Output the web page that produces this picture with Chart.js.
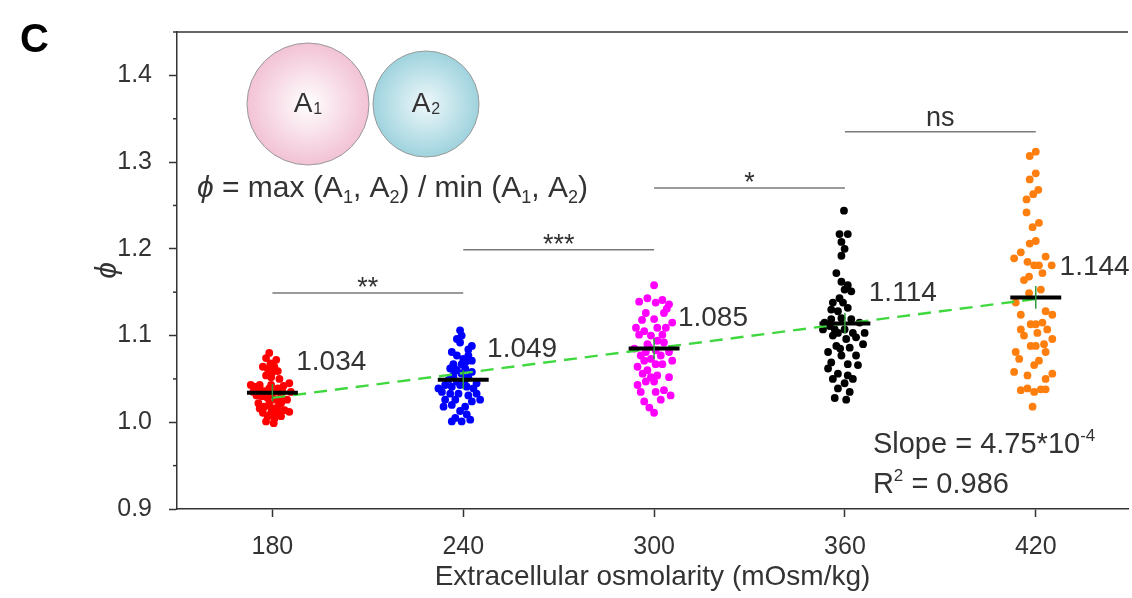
<!DOCTYPE html>
<html>
<head>
<meta charset="utf-8">
<script src="https://cdn.jsdelivr.net/npm/chart.js@4/dist/chart.umd.min.js"></script>
<style>
  html, body { margin: 0; padding: 0; background: #fff; overflow: hidden; }
</style>
</head>
<body>
<canvas id="phiChart" width="1132" height="598"></canvas>
<script>
// Groups, means and SEM
const groups = [180, 240, 300, 360, 420];
const means = [1.034, 1.049, 1.085, 1.114, 1.144];
const sem = [0.010, 0.011, 0.012, 0.012, 0.013];
const colors = ["#ff0000", "#0000ff", "#ff00ff", "#000000", "#ff7f0e"];

// Individual cells: horizontal jitter (mOsm/kg) and phi
const dx180 = [-1, 1.2, -2, -3, -1.5, 0.6, 1.7, -2, -0.4, 2.2, 5.3, 3.5, -5.8, -4, -2.5, 0.6, 5.8, -5, -3.3, -1.5,
  2.7, 4.6, -4.4, -2.5, -0.2, 1.7, 3.8, 5.3, -3, -1.5, 0.6, 2.7, -2, 0.4, -6.8, -0.4, -1, 1.7, -4, 3.2,
  -6, -0.4, 1.2, -0.9, 2.7, -4, 1.7, -0.4, -0.6, -0.1];
const phi180 = [1.080, 1.072, 1.074, 1.064, 1.062, 1.064, 1.059, 1.054, 1.052, 1.050, 1.045, 1.042, 1.041, 1.039, 1.036, 1.035, 1.035, 1.031, 1.030, 1.028,
  1.030, 1.026, 1.022, 1.018, 1.016, 1.018, 1.014, 1.012, 1.011, 1.007, 1.004, 1.007, 1.001, 0.999, 1.043, 1.043, 1.039, 1.039, 1.043, 1.035,
  1.035, 1.031, 1.026, 1.022, 1.022, 1.016, 1.011, 1.011, 1.068, 1.057];

const dx240 = [-1, -0.5, -2, -1, 2.7, 1.6, -3.6, -2, 1.6, 0, 2.7, -3.1, -4.1, -2, 0.6, -0.5, -3.1, 1.6, -5.7, -3.6,
  -1, 1.1, 3.2, -6.7, -4.1, -1.5, 1.6, 4.2, -5.7, -2.5, 2.7, 5.3, -3.6, 0.6, -6.2, -1, 1.1, -2.5, 2.2, -3.6,
  -0.5, 0.6, -2, 2.7, -4.6, 4.2, -0.5, -7.8, 0.9, -2.8];
const phi240 = [1.106, 1.100, 1.096, 1.092, 1.088, 1.084, 1.081, 1.077, 1.077, 1.073, 1.071, 1.067, 1.062, 1.060, 1.062, 1.056, 1.054, 1.052, 1.043, 1.041,
  1.043, 1.041, 1.039, 1.035, 1.033, 1.033, 1.031, 1.033, 1.026, 1.026, 1.024, 1.026, 1.020, 1.018, 1.018, 1.013, 1.009, 1.005, 1.003, 1.001,
  1.001, 1.049, 1.047, 1.058, 1.049, 1.045, 1.067, 1.039, 1.070, 1.062];

const dx300 = [0, -4.7, -2.1, 0.5, 2.6, 4.7, -2.6, 3.1, 0, 5.7, -5.7, -3.1, 1, 3.7, -4.7, -1, 2.6, 1, -2.1, 3.1,
  -2.6, 0.5, -4.2, 4.7, -1, -3.1, -5.2, 0.5, 2.6, -2.1, 4.7, -1, 1, -2.6, -5.2, 0, 3.1, -4.2, 0.5, 5.2,
  -3.1, 2.1, 0, -1.6, 2.1, -6.2, 5.7, -3.6, -1.5, 4, -3.8];
const phi300 = [1.158, 1.139, 1.143, 1.138, 1.141, 1.136, 1.126, 1.126, 1.119, 1.115, 1.109, 1.105, 1.109, 1.109, 1.101, 1.100, 1.101, 1.094, 1.090, 1.092,
  1.081, 1.083, 1.077, 1.081, 1.073, 1.071, 1.064, 1.067, 1.067, 1.060, 1.052, 1.052, 1.054, 1.047, 1.043, 1.047, 1.037, 1.035, 1.035, 1.031,
  1.024, 1.026, 1.011, 1.087, 1.077, 1.085, 1.071, 1.056, 1.017, 1.131, 1.118];

const dx360 = [-0.3, -1.7, 0.9, -1.1, -0.1, -1.1, -2.7, -1.1, 0.9, 2, -0.1, -1.7, -3.8, -0.6, -4.3, -2.2, 0.9, -6.4, -4.3, -1.1,
  2, 4.6, -6.9, -3.2, -0.1, 2.5, 6.2, -3.8, 0.4, 3.5, -2.7, 1.5, -5.3, -1.1, 3.5, -4.3, 0.9, 4.1, -5.3, -2.2,
  0.9, -3.8, -0.1, -2.2, 1.5, -3.2, 0.4, -4.8, -2.2, 5.7, -1.5, 2.5];
const phi360 = [1.244, 1.217, 1.217, 1.208, 1.200, 1.192, 1.172, 1.162, 1.158, 1.151, 1.153, 1.143, 1.138, 1.138, 1.130, 1.128, 1.132, 1.115, 1.119, 1.120,
  1.119, 1.115, 1.107, 1.107, 1.107, 1.103, 1.103, 1.100, 1.096, 1.098, 1.088, 1.086, 1.081, 1.077, 1.077, 1.069, 1.067, 1.066, 1.062, 1.056,
  1.054, 1.050, 1.045, 1.039, 1.035, 1.028, 1.026, 1.111, 1.103, 1.090, 1.085, 1.050];

const dx420 = [0, -1.9, 0, -1.9, 0.8, -0.8, -2.9, -2.9, 1, -1, 0, -1.9, -4.7, -6.8, 3.1, -2.6, -0.5, 1, 5, 2.1,
  -2.1, -3.7, -6.3, -4.7, 3.1, 5.2, -1.6, 0, 2.1, -3.7, 0, -1.6, 2.6, 5.2, -6.3, -5.2, -0.5, 1, -6.8, -2.6,
  3.1, 5.2, -4.7, -2.6, -0.5, 1.6, 3.1, -1, -4.7, 3.6, 0.5, -2.1, 1.6, 3.1];
const phi420 = [1.312, 1.307, 1.287, 1.280, 1.268, 1.263, 1.257, 1.242, 1.230, 1.225, 1.209, 1.206, 1.196, 1.189, 1.191, 1.185, 1.181, 1.181, 1.181, 1.172,
  1.168, 1.164, 1.138, 1.124, 1.128, 1.124, 1.113, 1.113, 1.115, 1.100, 1.088, 1.088, 1.090, 1.096, 1.081, 1.073, 1.066, 1.071, 1.058, 1.054,
  1.050, 1.056, 1.037, 1.039, 1.035, 1.038, 1.038, 1.018, 1.107, 1.107, 1.103, 1.149, 1.153, 1.081];

// Significance brackets
const sigPairs = [[180, 240], [240, 300], [300, 360], [360, 420]];
const sigLevels = [1.149, 1.199, 1.270, 1.335];
const sigLabels = ["**", "***", "*", "ns"];

// Axis ticks
const xTicks = [180, 240, 300, 360, 420];
const yTicks = [0.9, 1.0, 1.1, 1.2, 1.3, 1.4];
const yMinorTicks = [0.95, 1.05, 1.15, 1.25, 1.35, 1.45];

const FONT = "'Liberation Sans', Arial, 'DejaVu Sans', sans-serif";
const TXT = "#333333";

const allDx = [dx180, dx240, dx300, dx360, dx420];
const allPhi = [phi180, phi240, phi300, phi360, phi420];

// Linear fit through the group means
const mx = groups.reduce((a, b) => a + b, 0) / groups.length;
const my = means.reduce((a, b) => a + b, 0) / means.length;
let sxy = 0, sxx = 0;
groups.forEach((g, i) => { sxy += (g - mx) * (means[i] - my); sxx += (g - mx) * (g - mx); });
const slope = sxy / sxx;
const intercept = my - slope * mx;

const barHalf = 8;
const meanBars = [];
const errBars = [];
groups.forEach((g, i) => {
  meanBars.push({ x: g - barHalf, y: means[i] }, { x: g + barHalf, y: means[i] }, { x: g, y: null });
  errBars.push({ x: g, y: means[i] - sem[i] }, { x: g, y: means[i] + sem[i] }, { x: g, y: null });
});
const sigLines = [];
sigPairs.forEach((p, i) => {
  sigLines.push({ x: p[0], y: sigLevels[i] }, { x: p[1], y: sigLevels[i] }, { x: p[1], y: null });
});

const scatterSets = groups.map((g, i) => ({
  data: allPhi[i].map((v, k) => ({ x: g + allDx[i][k], y: v })),
  backgroundColor: colors[i],
  borderWidth: 0,
  pointRadius: 3.9,
  order: 10
}));

// Extra drawing: frame, minor ticks, labels, schematic
const extras = {
  id: "extras",
  afterDatasetsDraw(chart) {
    const { ctx, chartArea: ca, scales: { x, y } } = chart;
    ctx.save();
    // top frame line
    ctx.strokeStyle = "#333";
    ctx.lineWidth = 1.5;
    ctx.beginPath();
    ctx.moveTo(ca.left, ca.top);
    ctx.lineTo(ca.right, ca.top);
    ctx.stroke();
    // minor y ticks
    yMinorTicks.forEach(v => {
      const py = y.getPixelForValue(v);
      ctx.beginPath();
      ctx.moveTo(ca.left - 4, py);
      ctx.lineTo(ca.left, py);
      ctx.stroke();
    });

    // significance labels
    ctx.fillStyle = TXT;
    ctx.font = "27px " + FONT;
    ctx.textAlign = "center";
    ctx.textBaseline = "alphabetic";
    sigPairs.forEach((p, i) => {
      const cx = x.getPixelForValue((p[0] + p[1]) / 2);
      const ly = y.getPixelForValue(sigLevels[i]);
      const m = ctx.measureText(sigLabels[i]);
      ctx.fillText(sigLabels[i], cx, ly - 6 - m.actualBoundingBoxDescent);
    });

    // mean value labels
    ctx.font = "28px " + FONT;
    ctx.textAlign = "left";
    ctx.textBaseline = "middle";
    groups.forEach((g, i) => {
      ctx.fillText(means[i].toFixed(3), x.getPixelForValue(g + 7.5), y.getPixelForValue(means[i] + 0.035));
    });

    // fit annotation
    const ax = x.getPixelForValue(360) + 28;
    ctx.textBaseline = "alphabetic";
    drawRuns(ctx, ax, ca.bottom - 56, [{ t: "Slope = " + (slope * 1e4).toFixed(2) + "*10" }, { t: "-4", sup: true }], 29);
    drawRuns(ctx, ax, ca.bottom - 16, [{ t: "R" }, { t: "2", sup: true }, { t: " = 0.986" }], 29);

    // schematic circles
    drawCircle(ctx, ca.left + 131, ca.top + 72, 61, "#f2c2d5", "#ffffff", "1");
    drawCircle(ctx, ca.left + 249, ca.top + 72, 53, "#9fd3de", "#eef8fa", "2");

    // formula
    ctx.fillStyle = TXT;
    ctx.textAlign = "left";
    drawRuns(ctx, ca.left + 20, ca.top + 165, [
      { t: "\u03D5", italic: true }, { t: " = max (A" }, { t: "1", sub: true }, { t: ", A" }, { t: "2", sub: true },
      { t: ") / min (A" }, { t: "1", sub: true }, { t: ", A" }, { t: "2", sub: true }, { t: ")" }
    ], 30);

    // panel letter
    ctx.fillStyle = "#000";
    ctx.font = "bold 40px " + FONT;
    ctx.fillText("C", 20, 52);
    ctx.restore();
  }
};

function drawRuns(ctx, x, y, runs, size) {
  runs.forEach(r => {
    const s = (r.sub || r.sup) ? Math.round(size * 0.6) : size;
    ctx.font = (r.italic ? "italic " : "") + s + "px " + FONT;
    const dy = r.sub ? size * 0.2 : r.sup ? -size * 0.4 : 0;
    ctx.fillText(r.t, x, y + dy);
    x += ctx.measureText(r.t).width;
  });
}

function drawCircle(ctx, cx, cy, r, edge, centre, sub) {
  const g = ctx.createRadialGradient(cx, cy, 0, cx, cy, r);
  g.addColorStop(0, centre);
  g.addColorStop(1, edge);
  ctx.fillStyle = g;
  ctx.beginPath();
  ctx.arc(cx, cy, r, 0, Math.PI * 2);
  ctx.fill();
  ctx.strokeStyle = "#999";
  ctx.lineWidth = 1;
  ctx.stroke();
  ctx.fillStyle = "#333";
  ctx.textBaseline = "middle";
  ctx.textAlign = "left";
  ctx.font = "28px " + FONT;
  const w = ctx.measureText("A").width;
  ctx.fillText("A", cx - w / 2 - 5, cy);
  ctx.font = "16px " + FONT;
  ctx.fillText(sub, cx + w / 2 - 4, cy + 6);
  ctx.textBaseline = "alphabetic";
}

new Chart(document.getElementById("phiChart"), {
  type: "scatter",
  data: {
    datasets: [
      ...scatterSets,
      {
        data: [{ x: 180, y: intercept + slope * 180 }, { x: 420, y: intercept + slope * 420 }],
        showLine: true, borderColor: "#3fd83f", borderWidth: 2.4, borderDash: [13, 8],
        pointRadius: 0, order: 3
      },
      {
        data: meanBars, showLine: true, spanGaps: false, borderColor: "#000", borderWidth: 4,
        pointRadius: 0, order: 2
      },
      {
        data: errBars, showLine: true, spanGaps: false, borderColor: "#2e9e3a", borderWidth: 1.5,
        pointRadius: 0, order: 1
      },
      {
        data: sigLines, showLine: true, spanGaps: false, borderColor: "#7a7a7a", borderWidth: 1.5,
        pointRadius: 0, order: 4
      }
    ]
  },
  options: {
    responsive: false,
    animation: false,
    layout: { padding: { top: 25, right: 0, left: 0, bottom: 0 } },
    plugins: { legend: { display: false }, tooltip: { enabled: false } },
    scales: {
      x: {
        type: "linear",
        min: 150,
        max: 449,
        afterBuildTicks: s => { s.ticks = xTicks.map(v => ({ value: v })); },
        afterFit: s => { s.height = 89; },
        ticks: { font: { size: 25, family: FONT }, color: TXT, padding: 15 },
        grid: { drawOnChartArea: false, drawTicks: true, tickLength: 8, tickWidth: 1.5, tickColor: "#333" },
        border: { color: "#333", width: 1.5 },
        title: {
          display: true, text: "Extracellular osmolarity (mOsm/kg)",
          font: { size: 28, family: FONT }, color: TXT, padding: { top: 0, bottom: 4 }
        }
      },
      y: {
        min: 0.9,
        max: 1.45,
        afterBuildTicks: s => { s.ticks = yTicks.map(v => ({ value: v })); },
        afterFit: s => { s.width = 177; },
        ticks: { font: { size: 25, family: FONT }, color: TXT, padding: 17, callback: v => v.toFixed(1) },
        grid: { drawOnChartArea: false, drawTicks: true, tickLength: 8, tickWidth: 1.5, tickColor: "#333" },
        border: { color: "#333", width: 1.5 },
        title: {
          display: true, text: "\u03D5",
          font: { size: 30, family: FONT, style: "italic" }, color: TXT, padding: { top: 90, bottom: 0 }
        }
      }
    }
  },
  plugins: [extras]
});
</script>
</body>
</html>
